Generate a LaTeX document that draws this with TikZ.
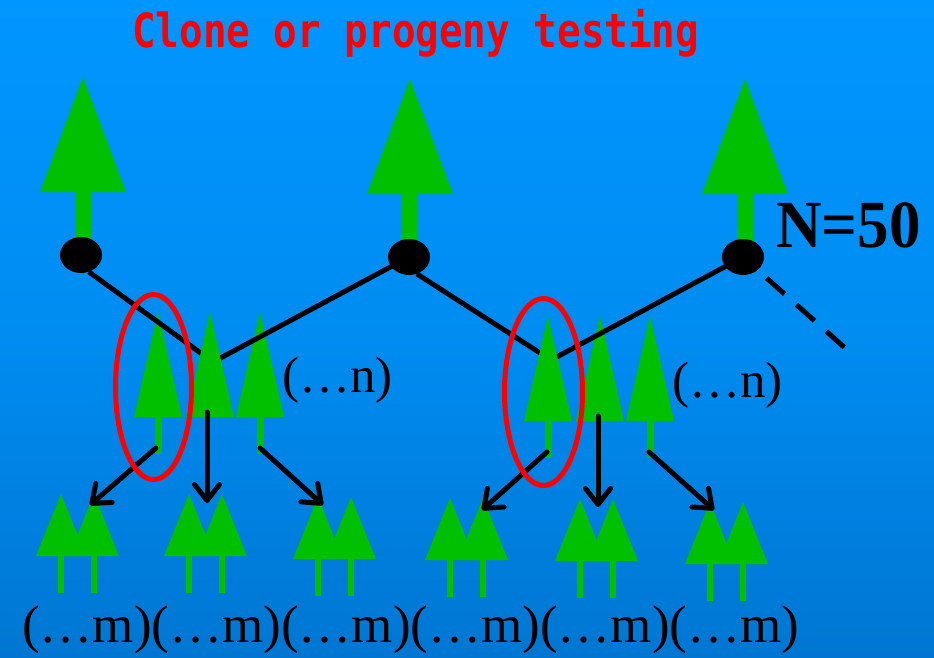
\documentclass[tikz,border=0pt]{standalone}
\usepackage{fontspec}
\usepackage{graphicx}
\setmainfont{Liberation Serif}
\newfontfamily\titlefont{DejaVu Sans Mono}
\usetikzlibrary{shapes.geometric,arrows.meta,calc}
\definecolor{bgtop}{RGB}{0,150,255}
\definecolor{bgbot}{RGB}{0,118,210}
\definecolor{treegreen}{RGB}{0,192,0}
\definecolor{ringred}{RGB}{255,0,0}
\tikzset{
  leaf/.style={fill=treegreen, draw=none},
  dot/.style={ellipse, fill=black, minimum width=42pt, minimum height=36pt, inner sep=0pt},
  ring/.style={ellipse, draw=ringred, line width=5pt, inner sep=0pt},
  link/.style={line width=5pt, draw=black},
  arr/.style={line width=5pt, draw=black, line cap=round, line join=round,
    -{Straight Barb[length=16pt, width=25pt, line cap=round, line join=round]}},
  lbl/.style={inner sep=0pt, anchor=base west, text=black},
  pics/bigtree/.style={code={
    \fill[leaf] (-8,110) rectangle (8,180);
    \fill[leaf] (0,0) -- (43,115) -- (-43,115) -- cycle;
  }},
  pics/midtree/.style={code={
    \fill[leaf] (-3.5,100) rectangle (3.5,142);
    \fill[leaf] (0,0) -- (24,105) -- (-24,105) -- cycle;
  }},
  pics/midcrown/.style={code={
    \fill[leaf] (0,0) -- (24,105) -- (-24,105) -- cycle;
  }},
  pics/seedlings/.style={code={
    \foreach \dx in {0,33}{
      \fill[leaf] (\dx-3,60) rectangle (\dx+3,99);
      \fill[leaf] (\dx,0) -- (\dx+25,62) -- (\dx-25,62) -- cycle;
    }
  }},
}
\begin{document}
\begin{tikzpicture}[x=1pt, y=-1pt]
\useasboundingbox (0,0) rectangle (934,658);
\shade[top color=bgtop, bottom color=bgbot, middle color=bgtop!70!bgbot] (0,0) rectangle (934,658);

% title
\node[inner sep=0pt, anchor=base west, text=ringred,
  font=\titlefont\bfseries\fontsize{47pt}{47pt}\selectfont] (title) at (132,48)
  {\scalebox{0.835}[1]{Clone or progeny testing}};

% parent trees
\pic at (83,77) {bigtree};
\pic at (410,79) {bigtree};
\pic at (745,79) {bigtree};
\node[dot] (p1) at (81,255) {};
\node[dot] (p2) at (409,257) {};
\node[dot] (p3) at (743,257) {};

\node[lbl, font=\bfseries\fontsize{63pt}{63pt}\selectfont] (nlab) at (776,247)
  {\scalebox{1}[1.07]{N=50}};

% offspring rows (behind the crossing lines)
\pic at (158,312) {midtree};
\pic at (260,312) {midtree};
\pic at (600,316) {midcrown};
\pic at (650,316) {midtree};

% crossing lines
\coordinate (j1) at (213,362);
\coordinate (j2) at (551,360);
\coordinate (dend) at (845,348);
\draw[link] (p1.-65) -- (j1) -- (p2.center);
\draw[link] (p2.-65) -- (j2) -- (p3.center);
\draw[link, dash pattern=on 24pt off 16pt, dash phase=28pt] (p3) -- (dend);

% offspring in front of the junctions
\pic at (210,312) {midcrown};
\pic at (548,316) {midtree};

% grand-offspring
\pic at (61,494) {seedlings};
\pic at (189,494) {seedlings};
\pic at (318,497) {seedlings};
\pic at (450,498) {seedlings};
\pic at (580,499) {seedlings};
\pic at (710,502) {seedlings};

% arrows
\coordinate (a1s) at (156,448); \coordinate (a1e) at (90,505);
\coordinate (a2s) at (207,412); \coordinate (a2e) at (207,503);
\coordinate (a3s) at (260,448); \coordinate (a3e) at (323,505);
\coordinate (b1s) at (547,452); \coordinate (b1e) at (482,510);
\coordinate (b2s) at (598,416); \coordinate (b2e) at (598,507);
\coordinate (b3s) at (649,452); \coordinate (b3e) at (714,510);
\draw[arr] (a1s) -- (a1e);
\draw[arr] (a2s) -- (a2e);
\draw[arr] (a3s) -- (a3e);
\draw[arr] (b1s) -- (b1e);
\draw[arr] (b2s) -- (b2e);
\draw[arr] (b3s) -- (b3e);

% red rings
\node[ring, minimum width=76pt, minimum height=185pt] (r1) at (153.5,387) {};
\node[ring, minimum width=78pt, minimum height=187pt] (r2) at (543.5,392) {};

% labels
\node[lbl, font=\fontsize{51pt}{51pt}\selectfont] (n1) at (282,392) {(…n)};
\node[lbl, font=\fontsize{51pt}{51pt}\selectfont] (n2) at (672,397) {(…n)};
\node[lbl, font=\fontsize{53pt}{53pt}\selectfont] (mrow) at (22,642)
  {(…m)(…m)(…m)(…m)(…m)(…m)};
\end{tikzpicture}
\end{document}
